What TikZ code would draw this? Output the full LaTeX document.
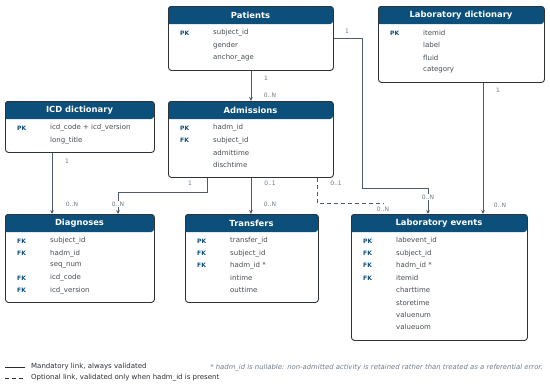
\documentclass[tikz,border=0pt]{standalone}
\usepackage{fontspec}
\setmainfont{DejaVu Sans}
\usetikzlibrary{arrows.meta}
\definecolor{hdr}{HTML}{0B4F7A}
\definecolor{bordc}{HTML}{2E3338}
\definecolor{fieldc}{HTML}{454C53}
\definecolor{connc}{HTML}{4F5B66}
\definecolor{cardc}{HTML}{6E7A85}
\definecolor{notec}{HTML}{6E7D8C}
\definecolor{legc}{HTML}{2A2E33}
\tikzset{
 entbox/.style={draw=bordc, line width=0.9pt, rounded corners=3pt, inner sep=0pt, anchor=north west},
 ttl/.style={text=white, font=\fontsize{8.4}{9}\selectfont\bfseries, inner sep=0pt},
 keyl/.style={text=hdr, font=\fontsize{6}{7}\selectfont\bfseries, anchor=west, inner sep=0pt},
 fld/.style={text=fieldc, font=\fontsize{7}{8}\selectfont, anchor=west, inner sep=0pt},
 conn/.style={draw=connc, line width=0.9pt, -{Stealth[length=4pt,width=3.6pt]}},
 optconn/.style={draw=connc, line width=0.9pt, dash pattern=on 4pt off 3pt},
 card/.style={text=cardc, font=\fontsize{6}{6.5}\selectfont, inner sep=0.8pt},
 cardw/.style={card, fill=white},
 legline/.style={draw=legc, line width=0.8pt},
 legt/.style={text=legc, font=\fontsize{7}{8}\selectfont, anchor=west, inner sep=0pt},
 notet/.style={text=notec, font=\fontsize{6.85}{7.5}\selectfont\itshape, anchor=east, inner sep=0pt},
}
\newcommand\erent[7]{%
 \fill[hdr] ({#2},{#3+18}) [rounded corners=3pt] -- ({#2},{#3}) -- ({#2+#4},{#3}) -- ({#2+#4},{#3+18}) [sharp corners] -- cycle;
 \node[entbox, minimum width=#4pt, minimum height=#5pt] (#1) at (#2,#3) {};
 \node[ttl] (#1-t) at ({#2+#4/2},{#3+9}) {#6};
 \foreach \k/\f [count=\i] in {#7} {
   \node[keyl] (#1-k\i) at ({#2+12},{#3+27+12.3*(\i-1)}) {\k};
   \node[fld] (#1-f\i) at ({#2+45},{#3+27+12.3*(\i-1)}) {\f};
 }
}
\begin{document}
\begin{tikzpicture}[x=1pt,y=-1pt]
\useasboundingbox (0,0) rectangle (550,386);
\erent{pat}{168}{6}{165}{64}{Patients}{PK/subject\_id, /gender, /anchor\_age}
\erent{labd}{378}{6}{166}{76}{Laboratory dictionary}{PK/itemid, /label, /fluid, /category}
\erent{icd}{5}{101}{149}{51}{ICD dictionary}{PK/icd\_code + icd\_version, /long\_title}
\erent{adm}{168}{101}{165}{76}{Admissions}{PK/hadm\_id, FK/subject\_id, /admittime, /dischtime}
\erent{diag}{5}{214}{149}{88}{Diagnoses}{FK/subject\_id, FK/hadm\_id, /seq\_num, FK/icd\_code, FK/icd\_version}
\erent{trans}{185}{214}{133}{88}{Transfers}{PK/transfer\_id, FK/subject\_id, FK/hadm\_id *, /intime, /outtime}
\erent{labev}{351}{214}{176}{126}{Laboratory events}{PK/labevent\_id, FK/subject\_id, FK/hadm\_id *, FK/itemid, /charttime, /storetime, /valuenum, /valueuom}
% connectors
\draw[conn] (pat.south) -- (pat.south |- adm.north);
\coordinate (pl) at (362,188);
\draw[conn] ([yshift=-32pt]pat.north east) -| (pl) -| ([xshift=77pt]labev.north west);
\draw[conn] ([xshift=105pt]labd.south west) -- ([xshift=132pt]labev.north west);
\draw[conn] ([xshift=47pt]icd.south west) -- ([xshift=47pt]diag.north west);
\draw[conn] ([xshift=39pt]adm.south west) -- ++(0,15) -| ([xshift=113pt]diag.north west);
\draw[conn] (adm.south) -- (adm.south |- trans.north);
\coordinate (optend) at (383,203);
\draw[optconn] ([xshift=149pt]adm.south west) |- (optend);
% cardinalities
\node[card] (c1) at (347,31) {1};
\node[card] (c2) at (266,78) {1};
\node[card] (c3) at (270,95) {0..N};
\node[card] (c4) at (498,90) {1};
\node[card] (c5) at (500,205) {0..N};
\node[card] (c6) at (67,161) {1};
\node[card] (c7) at (72,204) {0..N};
\node[card] (c8) at (190,183) {1};
\node[cardw] (c9) at (118,204) {0..N};
\node[card] (c10) at (270,183) {0..1};
\node[card] (c11) at (270,204) {0..N};
\node[card] (c12) at (336,183) {0..1};
\node[card] (c13) at (383,209) {0..N};
\node[cardw] (c14) at (428,197) {0..N};
% legend
\coordinate (la1) at (5,367); \coordinate (lb1) at (25,367);
\coordinate (la2) at (5,378); \coordinate (lb2) at (25,378);
\draw[legline] (la1) -- (lb1);
\draw[legline, dash pattern=on 4pt off 3pt] (la2) -- (lb2);
\node[legt] (lg1) at (31,367) {Mandatory link, always validated};
\node[legt] (lg2) at (31,378) {Optional link, validated only when hadm\_id is present};
\node[notet] (note) at (543,368) {* hadm\_id is nullable: non-admitted activity is retained rather than treated as a referential error.};
\end{tikzpicture}
\end{document}
